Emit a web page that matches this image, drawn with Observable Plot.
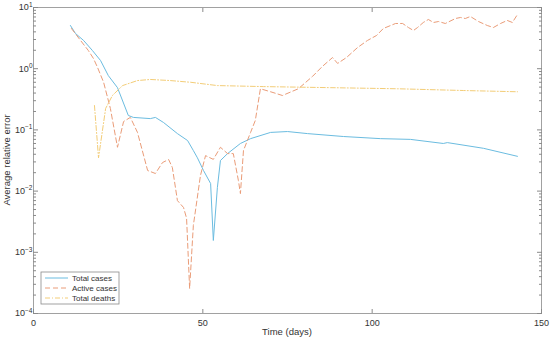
<!DOCTYPE html>
<html><head><meta charset="utf-8">
<script src="https://cdn.jsdelivr.net/npm/d3@7"></script>
<script src="https://cdn.jsdelivr.net/npm/@observablehq/plot@0.6"></script>
<style>body{margin:0;background:#fff;}</style>
</head><body><div id="chart"></div>
<script>
// ---- data ----
const seriesNames = ["Total cases", "Active cases", "Total deaths"];
const seriesColors = ["#6BBCE0", "#EA9C78", "#F3CD78"];
const seriesDash = [null, "5,3", "5,2,1,2"];

const totalCasesDays = [10.9,12.4,14.8,17.4,19.8,22.1,24.8,28.0,29.5,34.5,36,38.4,42.5,45.5,47.2,48.4,50.2,52.3,53.1,54.3,55.2,57.3,61.1,64.1,70,75,80.9,91.5,102.4,111.3,121,122.2,132.9,142.9];
const totalCasesErr = [5.08,3.76,2.89,1.98,1.36,0.77,0.49,0.172,0.16,0.153,0.16,0.132,0.087,0.067,0.046,0.035,0.0217,0.0133,0.00156,0.0115,0.0316,0.041,0.060,0.072,0.091,0.094,0.087,0.078,0.072,0.070,0.060,0.062,0.050,0.037];

const activeCasesDays = [11.2,13.9,16.2,17.7,18.9,20.7,22.7,24.8,26.6,28.6,30.7,33.7,36.0,38.1,39.9,41.0,42.5,44.3,45.2,46.1,47.2,49.3,50.8,53.1,55.2,57.3,59.0,60.5,61.1,62.0,64.1,65.5,67.0,70.0,73.5,78.2,82.4,85.3,88.3,89.8,92.4,95.7,98.6,101.3,103.3,106.9,109.0,110.7,112.2,113.4,115.1,116.6,118.1,119.6,121.6,124.6,126.1,127.5,129.0,131.4,134.0,135.8,137.9,139.9,141.4,142.9];
const activeCasesErr = [4.54,2.89,1.98,1.47,1.05,0.60,0.224,0.052,0.137,0.160,0.091,0.0217,0.0194,0.0293,0.0328,0.0243,0.0070,0.0054,0.0036,0.000256,0.00275,0.018,0.038,0.033,0.052,0.041,0.041,0.0149,0.0091,0.046,0.091,0.143,0.47,0.42,0.365,0.47,0.75,1.09,1.52,1.22,1.52,2.22,2.89,3.49,4.54,5.48,5.48,4.71,4.21,4.71,5.69,6.37,5.69,5.90,5.48,6.61,6.87,6.61,7.13,5.90,5.08,4.71,5.48,6.14,5.69,7.69];

const totalDeathsDays = [18.0,19.2,21.3,23.3,26.3,30.7,34.5,40.4,46.4,54.3,67.9,87.7,107.5,127,142.9];
const totalDeathsErr = [0.25,0.035,0.224,0.365,0.53,0.64,0.667,0.64,0.60,0.53,0.51,0.49,0.47,0.44,0.42];

const xTicks = [0, 50, 100, 150];
const yTicks = [1e-4, 1e-3, 1e-2, 1e-1, 1, 10];
const yTickExponents = ["-4", "-3", "-2", "-1", "0", "1"];
const yMinor = [];
for (let e = -4; e < 1; e++) for (let m = 2; m <= 9; m++) yMinor.push(m * Math.pow(10, e));

const xLabel = "Time (days)";
const yLabel = "Average relative error";

// ---- build rows ----
const rows = [];
[[totalCasesDays, totalCasesErr], [activeCasesDays, activeCasesErr], [totalDeathsDays, totalDeathsErr]]
  .forEach(([ds, vs], i) => ds.forEach((d, j) => rows.push({series: seriesNames[i], day: d, err: vs[j]})));

const axisColor = "#8a8a8a";
const lineMarks = seriesNames.map((n, i) =>
  Plot.line(rows.filter(r => r.series === n), {
    x: "day", y: "err", stroke: seriesColors[i], strokeWidth: 1,
    strokeDasharray: seriesDash[i] ?? undefined
  })
);
const noText = () => "";

const plot = Plot.plot({
  width: 550, height: 340,
  marginLeft: 33, marginRight: 9, marginTop: 7, marginBottom: 27,
  style: {fontFamily: "'Liberation Sans', Arial, sans-serif", fontSize: "9px", color: "#333", background: "#fff"},
  x: {domain: [0, 150]},
  y: {type: "log", domain: [1e-4, 10]},
  marks: [
    ...lineMarks,
    Plot.frame({stroke: axisColor, strokeWidth: 0.8}),
    Plot.axisX(xTicks, {anchor: "bottom", tickSize: 0, tickPadding: 6, label: null, tickFormat: d => String(d)}),
    Plot.axisX(xTicks, {anchor: "bottom", tickSize: 4, dy: -4, tickFormat: noText, label: null, stroke: axisColor}),
    Plot.axisX(xTicks, {anchor: "top", tickSize: 4, dy: 4, tickFormat: noText, label: null, stroke: axisColor}),
    Plot.axisY(yTicks, {anchor: "left", tickSize: 0, tickPadding: 1, label: null,
      tickFormat: d => "10^" + yTickExponents[yTicks.indexOf(d)]}),
    Plot.axisY(yTicks, {anchor: "left", tickSize: 5, dx: 5, tickFormat: noText, label: null, stroke: axisColor}),
    Plot.axisY(yMinor, {anchor: "left", tickSize: 3, dx: 3, tickFormat: noText, label: null, stroke: axisColor}),
    Plot.axisY(yTicks, {anchor: "right", tickSize: 5, dx: -5, tickFormat: noText, label: null, stroke: axisColor}),
    Plot.axisY(yMinor, {anchor: "right", tickSize: 3, dx: -3, tickFormat: noText, label: null, stroke: axisColor})
  ]
});

document.getElementById("chart").appendChild(plot);
const svg = d3.select(plot);

// superscript exponents on log tick labels
svg.selectAll("text").each(function () {
  const t = this.textContent;
  if (t.startsWith("10^")) {
    const exp = t.slice(3);
    const el = d3.select(this);
    el.text("10");
    el.append("tspan").attr("dy", "-0.55em").attr("font-size", "6.5px").text(exp.replace("-", "\u2212"));
  }
});

// axis titles
const xs = plot.scale("x"), ys = plot.scale("y");
svg.append("text")
  .attr("x", (xs.apply(0) + xs.apply(150)) / 2).attr("y", 335)
  .attr("text-anchor", "middle").attr("font-size", "9.5px").attr("fill", "#333").text(xLabel);
svg.append("text")
  .attr("transform", `translate(10,${(ys.apply(1e-4) + ys.apply(10)) / 2}) rotate(-90)`)
  .attr("text-anchor", "middle").attr("font-size", "9.5px").attr("fill", "#333").text(yLabel);

// legend
const lg = svg.append("g");
lg.append("rect").attr("x", 41).attr("y", 272).attr("width", 78).attr("height", 32)
  .attr("fill", "#fff").attr("stroke", axisColor).attr("stroke-width", 0.8);
seriesNames.forEach((n, i) => {
  const y = 278 + 10 * i;
  lg.append("line").attr("x1", 45).attr("x2", 68).attr("y1", y).attr("y2", y)
    .attr("stroke", seriesColors[i]).attr("stroke-width", 1)
    .attr("stroke-dasharray", seriesDash[i]);
  lg.append("text").attr("x", 72).attr("y", y).attr("dy", "0.35em")
    .attr("text-anchor", "start")
    .attr("font-size", "8px").attr("fill", "#333").text(n);
});
</script>
</body></html>
